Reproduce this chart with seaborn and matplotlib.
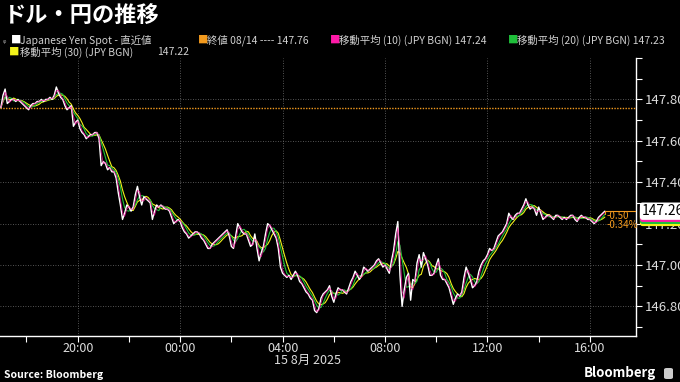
import matplotlib
matplotlib.use("Agg")
import matplotlib.pyplot as plt
import matplotlib.dates as mdates
from matplotlib.patches import FancyBboxPatch
import numpy as np
import pandas as pd
import seaborn as sns

# ---------------- data ----------------
title = "ドル・円の推移"
start_time = "2025-08-14 17:00"
bar_step = "5min"
price = [
    147.76, 147.82, 147.85, 147.78, 147.79, 147.80, 147.80, 147.79, 147.80, 147.79, 147.78, 147.77,
    147.76, 147.75, 147.77, 147.78, 147.78, 147.79, 147.79, 147.80, 147.79, 147.80, 147.80, 147.81,
    147.80, 147.82, 147.86, 147.83, 147.81, 147.80, 147.77, 147.75, 147.76, 147.77, 147.67, 147.69,
    147.70, 147.66, 147.64, 147.63, 147.61, 147.62, 147.63, 147.63, 147.64, 147.64, 147.61, 147.48,
    147.50, 147.49, 147.46, 147.47, 147.45, 147.45, 147.42, 147.35, 147.29, 147.22, 147.25, 147.29,
    147.28, 147.26, 147.28, 147.34, 147.38, 147.33, 147.29, 147.33, 147.32, 147.31, 147.30, 147.22,
    147.26, 147.29, 147.28, 147.29, 147.28, 147.27, 147.27, 147.26, 147.23, 147.20, 147.21, 147.22,
    147.21, 147.18, 147.16, 147.15, 147.13, 147.14, 147.15, 147.16, 147.16, 147.15, 147.13, 147.12,
    147.10, 147.08, 147.08, 147.10, 147.11, 147.12, 147.13, 147.14, 147.15, 147.16, 147.17, 147.14,
    147.09, 147.08, 147.14, 147.20, 147.18, 147.16, 147.15, 147.15, 147.12, 147.09, 147.10, 147.15,
    147.08, 147.02, 147.06, 147.09, 147.15, 147.20, 147.19, 147.17, 147.15, 147.13, 147.08, 146.99,
    146.96, 146.95, 146.94, 146.95, 146.93, 146.95, 146.97, 146.95, 146.92, 146.91, 146.89, 146.87,
    146.86, 146.84, 146.83, 146.78, 146.77, 146.79, 146.84, 146.86, 146.87, 146.88, 146.90, 146.85,
    146.82, 146.86, 146.89, 146.88, 146.88, 146.87, 146.86, 146.89, 146.92, 146.94, 146.97, 146.95,
    146.93, 146.95, 146.99, 146.98, 146.97, 146.98, 146.99, 147.00, 147.02, 147.03, 147.01, 146.99,
    147.00, 146.98, 146.96, 147.02, 147.07, 147.15, 147.21, 146.95, 146.80, 146.88, 146.94, 146.96,
    146.83, 146.93, 146.92, 147.01, 147.05, 146.99, 147.06, 147.03, 147.00, 146.95, 146.95, 146.96,
    147.00, 147.03, 146.95, 146.93, 146.93, 146.91, 146.89, 146.85, 146.81, 146.84, 146.86, 146.85,
    146.87, 146.94, 146.99, 146.96, 146.93, 146.89, 146.90, 146.92, 146.97, 147.00, 147.02, 147.03,
    147.05, 147.08, 147.07, 147.08, 147.11, 147.14, 147.15, 147.16, 147.18, 147.20, 147.25, 147.23,
    147.22, 147.24, 147.25, 147.25, 147.27, 147.29, 147.32, 147.29, 147.27, 147.28, 147.27, 147.24,
    147.28, 147.25, 147.22, 147.23, 147.24, 147.24, 147.23, 147.22, 147.24, 147.24, 147.23, 147.22,
    147.23, 147.22, 147.23, 147.24, 147.24, 147.22, 147.21, 147.23, 147.24, 147.23, 147.23, 147.22,
    147.22, 147.21, 147.20, 147.21, 147.23, 147.24, 147.25, 147.26,
]
prev_close = 147.76
last_price = 147.26
change_labels = ["-0.50", "-0.34%"]
ma_names = ["ma10", "ma20", "ma30"]
ma_windows = [2, 4, 6]            # 10/20/30 minutes on 5-minute bars
ma_last = [147.24, 147.23, 147.22]
ma_colors = ["#ff1aa8", "#1fbf3a", "#f2f21a"]
legend_row1 = ["Japanese Yen Spot - 直近値", "終値 08/14 ---- 147.76",
               "移動平均 (10) (JPY BGN) 147.24", "移動平均 (20) (JPY BGN) 147.23"]
legend_row2 = ["移動平均 (30) (JPY BGN)", "147.22"]
y_ticks = [146.80, 147.00, 147.20, 147.40, 147.60, 147.80]
x_label_hours = [0, 4, 8, 12, 16, 20]
date_label = "15 8月 2025"
source = "Source: Bloomberg"

# ---------------- frame ----------------
df = pd.DataFrame({"time": pd.date_range(start_time, periods=len(price), freq=bar_step),
                   "price": price})
for name, w in zip(ma_names, ma_windows):
    df[name] = df["price"].rolling(w, min_periods=1).mean()

sns.set_theme(style="dark", rc={"axes.facecolor": "black", "figure.facecolor": "black",
                                "savefig.facecolor": "black"})
plt.rcParams["font.family"] = ["Noto Sans CJK JP", "DejaVu Sans"]

W, H = 680, 382
fig = plt.figure(figsize=(6.8, 3.82), dpi=100)
ax = fig.add_axes([0 / W, 1 - 336 / H, 636 / W, (336 - 58) / H])
ax.set_facecolor("black")

orange = "#f39a1e"
# moving averages and price
for name, c in zip(["ma30", "ma20"], [ma_colors[2], ma_colors[1]]):
    sns.lineplot(data=df, x="time", y=name, ax=ax, color=c, lw=0.8, legend=False)
sns.lineplot(data=df, x="time", y="price", ax=ax, color="white", lw=1.0, legend=False)
sns.lineplot(data=df, x="time", y="ma10", ax=ax, color=ma_colors[0], lw=0.6, alpha=0.8,
             legend=False)

ax.axhline(prev_close, color=orange, lw=1.0, ls=(0, (1, 1)), zorder=1)

x_left = pd.Timestamp("2025-08-14 16:58")
x_right = pd.Timestamp("2025-08-15 17:48")
ax.set_xlim(x_left, x_right)
ax.set_ylim(146.657, 147.981)

# orange change bracket at the end
t_last = df["time"].iloc[-1]
ax.plot([t_last, x_right], [last_price, last_price], color=orange, lw=0.8, zorder=3)
ax.plot([t_last, t_last], [last_price, last_price - 0.015], color=orange, lw=0.8, zorder=3)
ax.text(t_last + pd.Timedelta(minutes=4), last_price - 0.025, change_labels[0],
        color=orange, fontsize=7, va="center", ha="left")
ax.text(t_last + pd.Timedelta(minutes=4), last_price - 0.066, change_labels[1],
        color=orange, fontsize=7, va="center", ha="left")

# axes styling
ax.set_xlabel("")
ax.set_ylabel("")
for s in ["left", "top"]:
    ax.spines[s].set_visible(False)
for s in ["right", "bottom"]:
    ax.spines[s].set_visible(True)
    ax.spines[s].set_color("white")
    ax.spines[s].set_linewidth(1.0)

ax.yaxis.tick_right()
ax.set_yticks(y_ticks)
ax.set_yticklabels([f"{v:.2f}" for v in y_ticks])
ax.set_yticks(np.arange(146.7, 148.0, 0.1), minor=True)
ax.tick_params(axis="y", which="both", right=True, left=False, colors="white",
               labelcolor="#dddddd", labelsize=9.5, length=4, width=0.8, direction="out", pad=2)

ax.xaxis.set_major_locator(mdates.HourLocator(byhour=x_label_hours))
ax.xaxis.set_minor_locator(mdates.HourLocator(byhour=range(0, 24, 2)))
ax.xaxis.set_major_formatter(mdates.DateFormatter("%H:%M"))
ax.tick_params(axis="x", which="both", bottom=True, colors="white", labelcolor="#dddddd",
               labelsize=9, length=4, width=0.8, direction="out", pad=0.5)

ax.grid(True, which="major", axis="both", color="#707070", ls=(0, (1, 2)), lw=0.6)
ax.grid(False, which="minor")
ax.set_axisbelow(True)

# right side value labels (moving-average tags peek out beneath the last-price tag)
for val, c, off in zip(ma_last[::-1], ma_colors[::-1], [-4.5, -3.0, -1.5]):
    ax.annotate(f"{last_price:.2f}", xy=(1, last_price), xycoords=("axes fraction", "data"),
                xytext=(4, off), textcoords="offset points", ha="left", va="center",
                color=c, fontsize=10, annotation_clip=False, zorder=5,
                bbox=dict(boxstyle="round,pad=0.12,rounding_size=0.2", fc=c, ec="none"))
ax.annotate(f"{last_price:.2f}", xy=(1, last_price), xycoords=("axes fraction", "data"),
            xytext=(4, 0), textcoords="offset points", ha="left", va="center",
            color="black", fontsize=10, annotation_clip=False, zorder=6,
            bbox=dict(boxstyle="round,pad=0.12,rounding_size=0.2", fc="white", ec="none"))

# ---------------- header ----------------
fig.text(4 / W, 1 - 16 / H, title, fontsize=16, weight="bold", color="white", va="center")

leg_c = "#d0d0d0"
fs = 7.5
y1 = 1 - 40 / H
y2 = 1 - 52 / H
fig.text(3 / W, y1, "ᵩ", fontsize=6, color="#999999", va="center")
fig.text(11 / W, y1, "■", fontsize=fs, color="white", va="center")
fig.text(20 / W, y1, legend_row1[0], fontsize=fs, color=leg_c, va="center")
fig.text(198 / W, y1, "■", fontsize=fs, color=orange, va="center")
fig.text(207 / W, y1, legend_row1[1], fontsize=fs, color=leg_c, va="center")
fig.text(330 / W, y1, "■", fontsize=fs, color=ma_colors[0], va="center")
fig.text(339 / W, y1, legend_row1[2], fontsize=fs, color=leg_c, va="center")
fig.text(508 / W, y1, "■", fontsize=fs, color=ma_colors[1], va="center")
fig.text(517 / W, y1, legend_row1[3], fontsize=fs, color=leg_c, va="center")
fig.text(9 / W, y2, "■", fontsize=fs, color=ma_colors[2], va="center")
fig.text(20 / W, y2, legend_row2[0], fontsize=fs, color=leg_c, va="center")
fig.text(157 / W, y2, legend_row2[1], fontsize=fs, color=leg_c, va="center")

# ---------------- footer ----------------
fig.text(308 / W, 1 - 360 / H, date_label, fontsize=9, color="#dddddd", ha="center",
         va="center")
fig.text(4 / W, 1 - 375 / H, source, fontsize=7.5, weight="bold", color="white",
         va="center")
fig.text(656 / W, 1 - 373 / H, "Bloomberg", fontsize=9.5, weight="bold", color="white",
         ha="right", va="center")
fig.patches.append(FancyBboxPatch((664 / W, 1 - 379 / H), 9 / W, 11 / H,
                                  boxstyle="round,pad=0,rounding_size=0.004",
                                  transform=fig.transFigure, fc="#cccccc", ec="none"))

fig.savefig("out.png", dpi=100, facecolor="black")
